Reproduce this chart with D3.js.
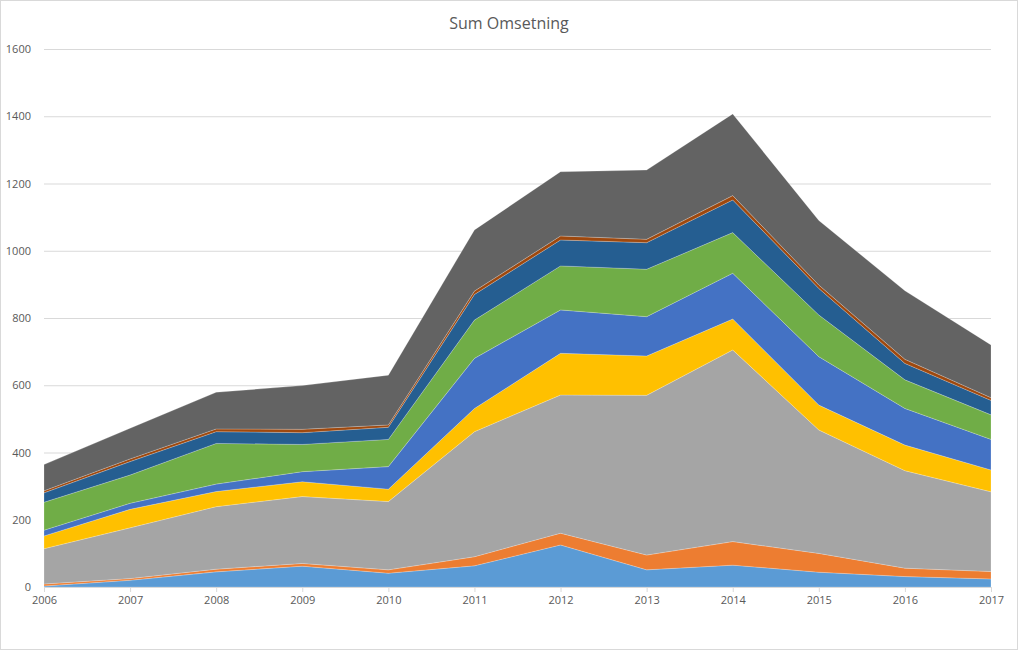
<!DOCTYPE html>
<html><head><meta charset="utf-8">
<script src="https://cdn.jsdelivr.net/npm/d3@7"></script>
<style>body{margin:0;background:#fff}svg{display:block}</style>
</head><body><svg id="c" width="1018" height="650"></svg>
<script>
const years = [2006,2007,2008,2009,2010,2011,2012,2013,2014,2015,2016,2017];
const yTicks = [0,200,400,600,800,1000,1200,1400,1600];
const s1 = [3,20,45,62,41,63,125,51,65,44,31,24];
const s2 = [6,5,8,8,10,27,35,44,70,56,25,22];
const s3 = [105,151,186,199,203,372,411,475,570,367,290,237];
const s4 = [38,55,45,44,37,69,124,117,92,74,76,65];
const s5 = [17,18,22,30,67,149,129,117,136,144,109,91];
const s6 = [83,84,121,81,81,114,131,141,121,124,85,73];
const s7 = [28,40,35,35,36,76,77,79,97,79,49,43];
const s8 = [6,8,8,10,7,10,12,10,13,10,12,8];
const s9 = [78,91,109,130,148,182,191,206,243,192,204,157];
const seriesList = [s1,s2,s3,s4,s5,s6,s7,s8,s9];
const colors = ["#5B9BD5","#ED7D31","#A5A5A5","#FFC000","#4472C4","#70AD47","#255E91","#9E480E","#636363"];

const svg = d3.select("#c");
svg.append("rect").attr("x",0.5).attr("y",0.5).attr("width",1017).attr("height",649)
  .attr("fill","#fff").attr("stroke","#d9d9d9");

const x = d3.scalePoint().domain(years).range([44,991]);
const y = d3.scaleLinear().domain([0,1600]).range([587,49]);

svg.append("text").attr("x",509).attr("y",29).attr("text-anchor","middle")
  .attr("font-family","'Open Sans', sans-serif").attr("font-size",16).attr("fill","#595959").text("Sum Omsetning");

// grid
svg.append("g").selectAll("line").data(yTicks.filter(d=>d>0)).join("line")
  .attr("x1",44).attr("x2",991).attr("y1",d=>y(d)+0.5).attr("y2",d=>y(d)+0.5)
  .attr("stroke","#d9d9d9").attr("stroke-width",1);

// stack
const rows = years.map((yr,i)=>{const o={year:yr}; seriesList.forEach((s,k)=>o["s"+k]=s[i]); return o;});
const stack = d3.stack().keys(seriesList.map((s,k)=>"s"+k));
const layers = stack(rows);
const area = d3.area().x(d=>x(d.data.year)).y0(d=>y(d[0])).y1(d=>y(d[1]));
svg.append("g").selectAll("path").data(layers).join("path")
  .attr("d",area).attr("fill",(d,i)=>colors[i])
  .attr("stroke","#fff").attr("stroke-opacity",0.35).attr("stroke-width",0.6);

// y axis labels
svg.append("g").selectAll("text").data(yTicks).join("text")
  .attr("x",31).attr("y",d=>y(d)+4).attr("text-anchor","end")
  .attr("font-family","'Open Sans', sans-serif").attr("font-size",11).attr("fill","#595959").text(d=>d);

// x axis
const xa = svg.append("g").attr("transform","translate(0,587)")
  .call(d3.axisBottom(x).tickSize(5).tickPadding(4));
xa.select(".domain").attr("stroke","#d9d9d9").attr("d","M44,0.5H991");
xa.selectAll(".tick line").attr("stroke","#d9d9d9");
xa.selectAll(".tick text").attr("font-family","'Open Sans', sans-serif").attr("font-size",11).attr("fill","#595959");
</script></body></html>
